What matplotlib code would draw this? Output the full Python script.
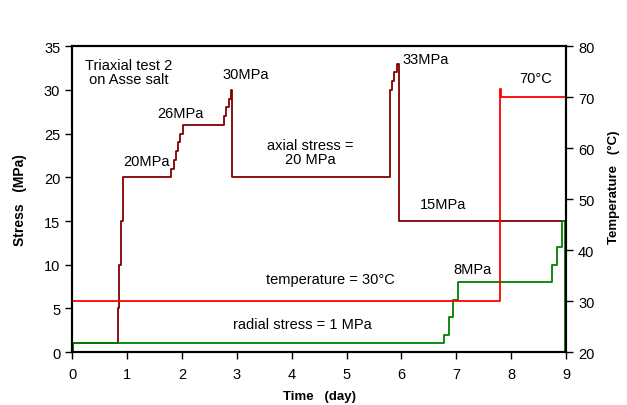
import matplotlib.pyplot as plt

plt.rcParams['font.family'] = ['Liberation Sans', 'DejaVu Sans']

# axial stress (MPa)
axial_t = [0, 0.01, 0.83, 0.86, 0.89, 0.92, 1.80, 1.86, 1.89, 1.93, 1.97, 2.02,
           2.77, 2.81, 2.85, 2.89, 2.92, 5.79, 5.82, 5.87, 5.91, 5.96, 9.0]
axial_v = [0, 1, 5, 10, 15, 20, 21, 22, 23, 24, 25, 26,
           27, 28, 29, 30, 20, 30, 31, 32, 33, 15, 15]

# radial stress (MPa)
radial_t = [0, 0.01, 6.77, 6.86, 6.94, 7.03, 8.74, 8.83, 8.92, 8.98, 9.0]
radial_v = [0, 1, 2, 4, 6, 8, 10, 12, 15, 0, 0]

# temperature (C)
temp_t = [0, 7.80, 7.82, 8.99, 9.0]
temp_v = [30, 71.5, 70, 70, 65]

fig = plt.figure(figsize=(6.27, 4.06), dpi=100)
ax = fig.add_axes([0.115, 0.130, 0.788, 0.754])

ax.plot(axial_t, axial_v, drawstyle='steps-post', color='#800000', lw=1.3)
ax.plot(radial_t, radial_v, drawstyle='steps-post', color='#008000', lw=1.3)

ax.set_xlim(0, 9)
ax.set_ylim(0, 35)
ax.set_xticks(range(0, 10))
ax.set_yticks(range(0, 40, 5))
ax.set_xlabel('Time   (day)', fontsize=9.5, fontweight='bold')
ax.set_ylabel('Stress   (MPa)', fontsize=10, fontweight='bold')
ax.xaxis.set_label_coords(0.5, -0.123)
ax.yaxis.set_label_coords(-0.092, 0.5)
ax.tick_params(labelsize=10.5, length=5, width=1, direction='out')
ax.tick_params(axis='x', pad=6)
for s in ax.spines.values():
    s.set_linewidth(1.5)

ax2 = ax.twinx()
ax2.plot(temp_t, temp_v, drawstyle='steps-post', color='#FF0000', lw=1.3)
ax2.set_ylim(20, 80)
ax2.set_yticks(range(20, 90, 10))
ax2.set_ylabel('Temperature   (°C)', fontsize=9.5, fontweight='bold')
ax2.yaxis.set_label_coords(1.085, 0.542)
ax2.tick_params(labelsize=10.5, length=5, width=1, direction='out')
for s in ax2.spines.values():
    s.set_linewidth(1.5)

fs = 10.5
ax.text(0.24, 32, 'Triaxial test 2\n on Asse salt', fontsize=fs, va='center', ha='left',
        linespacing=1.0)
ax.text(1.36, 21.9, '20MPa', fontsize=fs, ha='center', va='center')
ax.text(1.98, 27.4, '26MPa', fontsize=fs, ha='center', va='center')
ax.text(3.16, 31.8, '30MPa', fontsize=fs, ha='center', va='center')
ax.text(6.02, 33.5, '33MPa', fontsize=fs, ha='left', va='center')
ax.text(4.34, 22.9, 'axial stress =\n20 MPa', fontsize=fs, ha='center', va='center',
        linespacing=1.0)
ax.text(6.75, 16.9, '15MPa', fontsize=fs, ha='center', va='center')
ax.text(4.7, 8.35, 'temperature = 30°C', fontsize=fs, ha='center', va='center')
ax.text(4.19, 3.2, 'radial stress = 1 MPa', fontsize=fs, ha='center', va='center')
ax.text(7.29, 9.5, '8MPa', fontsize=fs, ha='center', va='center')
ax.text(8.44, 31.3, '70°C', fontsize=fs, ha='center', va='center')

fig.savefig('out.png', dpi=100)
